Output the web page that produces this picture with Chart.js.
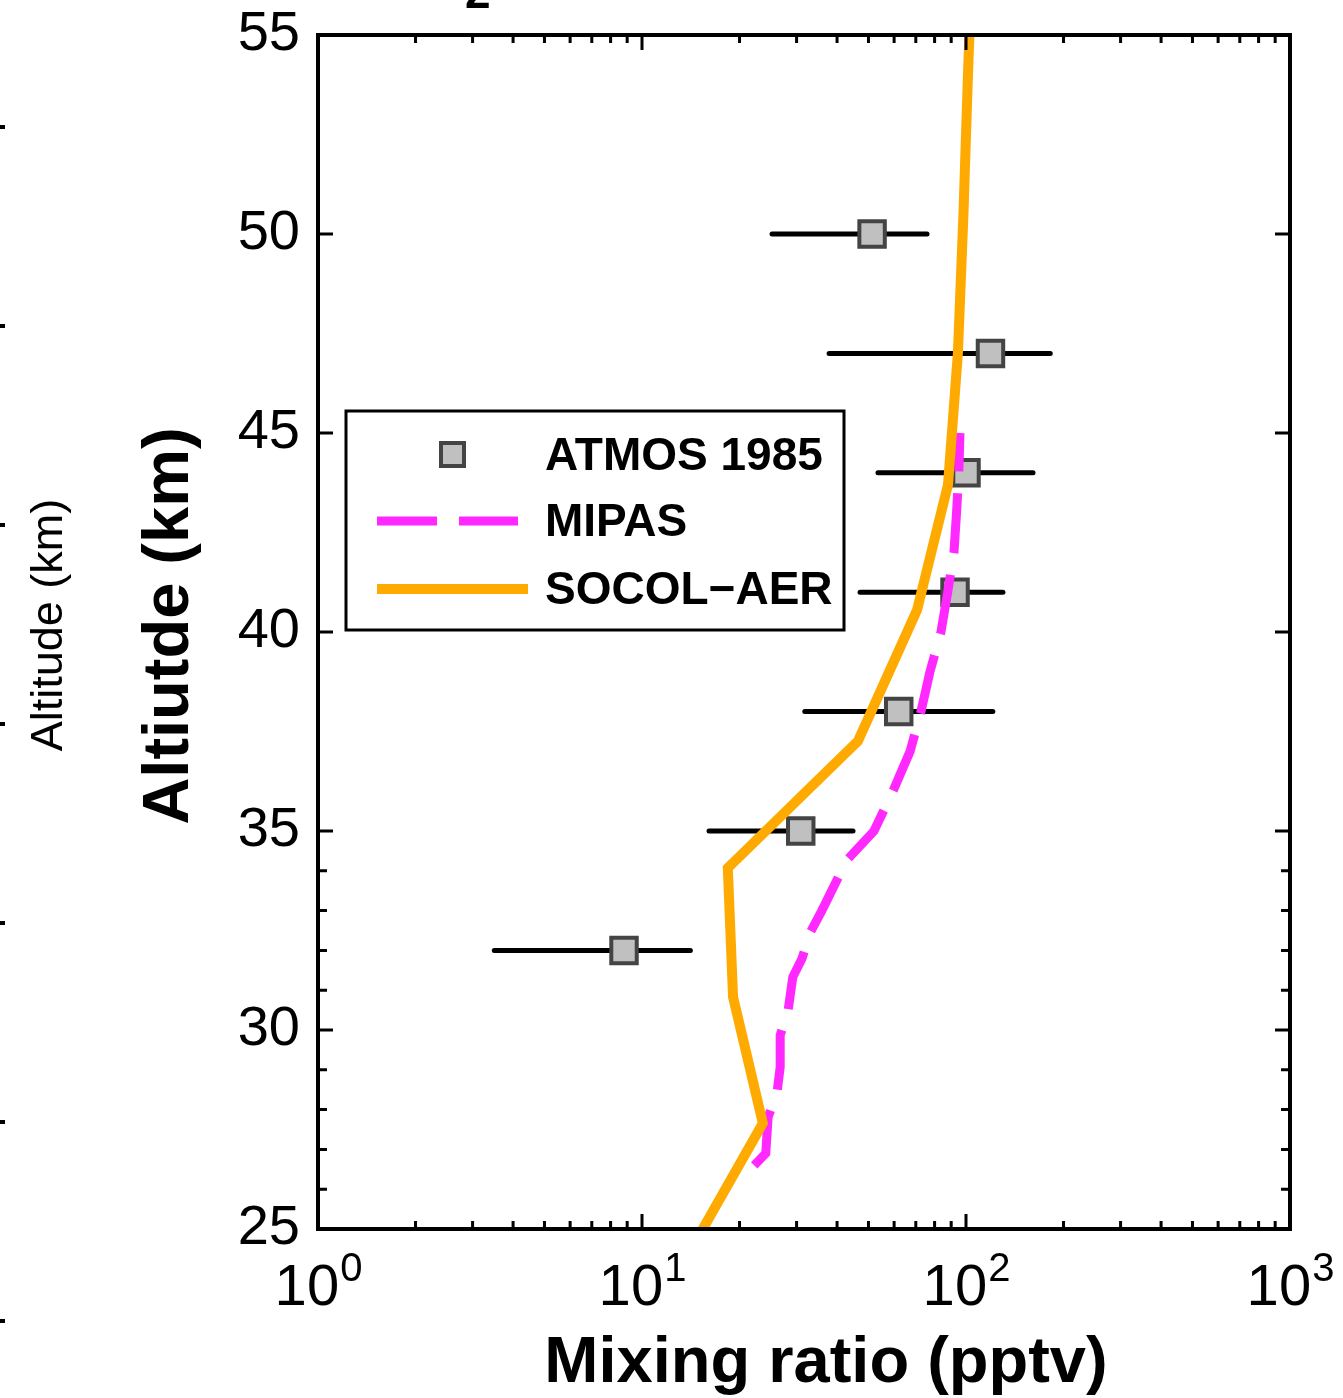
<!DOCTYPE html>
<html lang="en">
<head>
  <meta charset="UTF-8">
  <title>Mixing ratio profile</title>
  <script src="https://cdn.jsdelivr.net/npm/chart.js"></script>
  <style>
    body { margin: 0; background: #fff; }
    .chart-container { width: 1343px; height: 1398px; }
  </style>
</head>
<body>

<div class="chart-container">
  <canvas id="profileChart" width="1343" height="1398"></canvas>
</div>

<script>
  // ATMOS 1985 (altitude km, mixing ratio pptv, error bar range)
  const atmosAlt = [50, 47, 44, 41, 38, 35, 32];
  const atmosVal = [51.3, 119, 100, 92.5, 62, 30.9, 8.8];
  const atmosLow = [25.2, 37.8, 53.5, 47.1, 31.8, 16.1, 3.5];
  const atmosHigh = [75.8, 182, 161, 130, 121, 44.8, 14.1];

  // MIPAS profile (listed bottom to top)
  const mipasAlt = [26.6, 26.9, 27.81, 28.42, 29.07, 29.87, 30.45, 31.33, 31.8, 32.44, 33, 34.27, 35, 36, 37, 38, 39, 40, 41, 42, 43, 44, 45];
  const mipasVal = [22.2, 24.1, 24.5, 26.1, 26.7, 26.7, 28.2, 29.2, 31.2, 33.0, 35.9, 42.9, 52, 59.5, 67.2, 72.6, 77.4, 83.7, 87.8, 91.8, 93.5, 95, 95.8];

  // SOCOL-AER profile
  const socolAlt = [56, 54, 50.5, 47, 43.7, 40.55, 37.26, 34.07, 30.83, 27.66, 24.45];
  const socolVal = [103.5, 101.4, 98.2, 94.4, 88.0, 70.6, 46.4, 18.4, 19.1, 23.6, 14.1];

  // axis ticks
  const xTickValues = [1, 10, 100, 1000];
  const xTickExps = ['0', '1', '2', '3'];
  const yLabelValues = [25, 30, 35, 40, 45, 50, 55];
  const yMinorValues = [26, 27, 28, 29, 31, 32, 33, 34];

  const FONT = '"Liberation Sans", Arial, Helvetica, sans-serif';

  function toPoints(vals, alts) {
    return vals.map((v, i) => ({ x: v, y: alts[i] }));
  }

  // error bars, inward ticks, frame, labels and legend
  const decor = {
    id: 'decor',
    beforeDatasetsDraw(chart) {
      const { ctx, scales: { x, y } } = chart;
      ctx.save();
      ctx.strokeStyle = '#000';
      ctx.lineWidth = 5;
      ctx.lineCap = 'round';
      atmosAlt.forEach((alt, i) => {
        const py = y.getPixelForValue(alt);
        ctx.beginPath();
        ctx.moveTo(x.getPixelForValue(atmosLow[i]), py);
        ctx.lineTo(x.getPixelForValue(atmosHigh[i]), py);
        ctx.stroke();
      });
      ctx.restore();
    },
    afterDraw(chart) {
      const { ctx, chartArea: a, scales: { x, y } } = chart;
      ctx.save();

      // ticks (pointing inward, all four sides)
      ctx.strokeStyle = '#000';
      ctx.lineWidth = 3;
      ctx.beginPath();
      const xt = (v, len) => {
        const px = x.getPixelForValue(v);
        ctx.moveTo(px, a.bottom); ctx.lineTo(px, a.bottom - len);
        ctx.moveTo(px, a.top); ctx.lineTo(px, a.top + len);
      };
      const yt = (v, len) => {
        const py = y.getPixelForValue(v);
        ctx.moveTo(a.left, py); ctx.lineTo(a.left + len, py);
        ctx.moveTo(a.right, py); ctx.lineTo(a.right - len, py);
      };
      xTickValues.forEach(v => xt(v, 15));
      xTickValues.slice(0, -1).forEach(d => {
        for (let m = 2; m <= 9; m++) xt(d * m, 8);
      });
      yLabelValues.forEach(v => yt(v, 15));
      yMinorValues.forEach(v => yt(v, 9));
      ctx.stroke();

      // frame
      ctx.lineWidth = 4;
      ctx.strokeRect(a.left, a.top, a.right - a.left, a.bottom - a.top);

      // x tick labels 10^n
      ctx.fillStyle = '#000';
      ctx.textBaseline = 'alphabetic';
      xTickValues.forEach((v, i) => {
        const px = x.getPixelForValue(v);
        ctx.font = '58px ' + FONT;
        const wBase = ctx.measureText('10').width;
        ctx.font = '40px ' + FONT;
        const wExp = ctx.measureText(xTickExps[i]).width;
        const left = px - (wBase + wExp) / 2;
        ctx.font = '58px ' + FONT;
        ctx.textAlign = 'left';
        ctx.fillText('10', left, 1305);
        ctx.font = '40px ' + FONT;
        ctx.fillText(xTickExps[i], left + wBase + 1, 1281);
      });

      // axis titles
      ctx.textAlign = 'center';
      ctx.font = 'bold 65px ' + FONT;
      ctx.fillText('Mixing ratio (pptv)', 826, 1382);
      ctx.save();
      ctx.translate(188, 626);
      ctx.rotate(-Math.PI / 2);
      ctx.fillText('Altiutde (km)', 0, 0);
      ctx.restore();

      // neighbouring panel remnants on the left and top
      ctx.save();
      ctx.translate(62, 625);
      ctx.rotate(-Math.PI / 2);
      ctx.font = '45px ' + FONT;
      ctx.fillText('Altitude (km)', 0, 0);
      ctx.restore();
      for (let k = 0; k < 7; k++) {
        ctx.fillRect(0, 125 + k * 199, 5, 4);
      }
      ctx.font = 'bold 46px ' + FONT;
      ctx.textAlign = 'left';
      ctx.fillText('2', 465, 8);

      // legend
      ctx.fillStyle = '#fff';
      ctx.fillRect(346, 411, 498, 219);
      ctx.strokeStyle = '#000';
      ctx.lineWidth = 3;
      ctx.strokeRect(346, 411, 498, 219);

      const atmos = chart.data.datasets[2];
      ctx.fillStyle = atmos.backgroundColor;
      ctx.fillRect(441, 443, 23, 23);
      ctx.strokeStyle = atmos.borderColor;
      ctx.lineWidth = 4;
      ctx.strokeRect(441, 443, 23, 23);

      const mipas = chart.data.datasets[1];
      ctx.strokeStyle = mipas.borderColor;
      ctx.lineWidth = mipas.borderWidth;
      ctx.setLineDash(mipas.borderDash);
      ctx.beginPath(); ctx.moveTo(377, 521); ctx.lineTo(518, 521); ctx.stroke();
      ctx.setLineDash([]);

      const socol = chart.data.datasets[0];
      ctx.strokeStyle = socol.borderColor;
      ctx.lineWidth = socol.borderWidth;
      ctx.beginPath(); ctx.moveTo(377, 589); ctx.lineTo(528, 589); ctx.stroke();

      ctx.fillStyle = '#000';
      ctx.font = 'bold 46px ' + FONT;
      ctx.textAlign = 'left';
      ctx.textBaseline = 'middle';
      ctx.fillText(atmos.label, 545, 457);
      ctx.fillText(mipas.label, 545, 523);
      ctx.fillText(socol.label, 545, 591);

      ctx.restore();
    }
  };

  new Chart(document.getElementById('profileChart'), {
    type: 'scatter',
    data: {
      datasets: [
        {
          label: 'SOCOL\u2212AER',
          data: toPoints(socolVal, socolAlt),
          showLine: true,
          borderColor: '#ffaa00',
          borderWidth: 10,
          pointRadius: 0,
          clip: 0
        },
        {
          label: 'MIPAS',
          data: toPoints(mipasVal, mipasAlt),
          showLine: true,
          borderColor: '#ff28ff',
          borderWidth: 9,
          borderDash: [60, 22],
          pointRadius: 0,
          clip: 0
        },
        {
          label: 'ATMOS 1985',
          data: toPoints(atmosVal, atmosAlt),
          pointStyle: 'rect',
          pointRadius: 18,
          backgroundColor: '#c0c0c0',
          borderColor: '#444444',
          borderWidth: 4
        }
      ]
    },
    options: {
      responsive: false,
      animation: false,
      devicePixelRatio: 1,
      layout: { padding: { top: 35, right: 53, left: 0, bottom: 0 } },
      plugins: {
        legend: { display: false },
        tooltip: { enabled: false }
      },
      scales: {
        x: {
          type: 'logarithmic',
          min: 1,
          max: 1000,
          grid: { display: false },
          border: { display: false },
          ticks: { display: false },
          afterFit(scale) { scale.height = 169; }
        },
        y: {
          type: 'linear',
          min: 25,
          max: 55,
          grid: { display: false },
          border: { display: false },
          afterBuildTicks(scale) { scale.ticks = yLabelValues.map(v => ({ value: v })); },
          ticks: {
            autoSkip: false,
            padding: 10,
            color: '#000',
            font: { family: FONT, size: 56, lineHeight: 0.6 }
          },
          afterFit(scale) {
            scale.width = 318;
            scale.paddingTop = 0;
            scale.paddingBottom = 0;
          }
        }
      }
    },
    plugins: [decor]
  });
</script>

</body>
</html>
